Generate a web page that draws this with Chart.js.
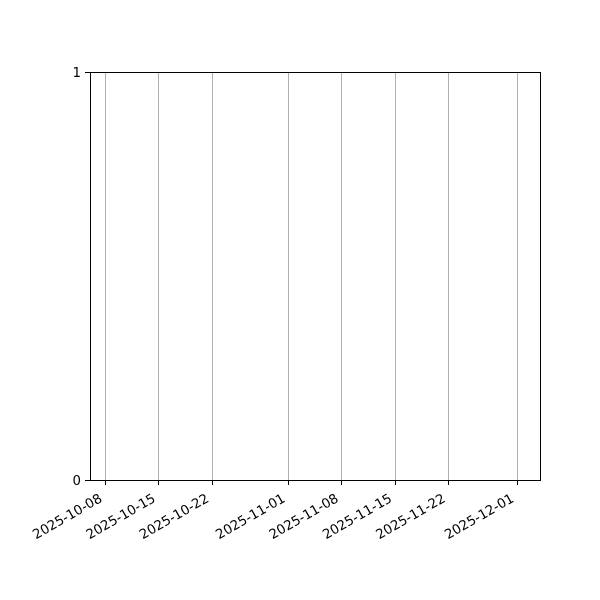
<!DOCTYPE html>
<html>
<head>
<meta charset="utf-8">
<script src="https://cdn.jsdelivr.net/npm/chart.js@4/dist/chart.umd.min.js"></script>
<style>
  html, body { margin: 0; padding: 0; background: #fff; }
  #wrap { width: 600px; height: 600px; position: relative; }
</style>
</head>
<body>
<div id="wrap"><canvas id="grafica"></canvas></div>
<script>
'use strict';

// fechas de las marcas del eje x
const TICK_DATES = ['2025-10-08', '2025-10-15', '2025-10-22', '2025-11-01',
                    '2025-11-08', '2025-11-15', '2025-11-22', '2025-12-01'];
// límites del eje x
const X_MIN_DATE = '2025-10-06';
const X_MAX_DATE = '2025-12-04';
// eje y
const Y_TICKS = [0, 1];
// serie vacía (el gráfico no tiene datos)
const SERIES_X = [];
const SERIES_Y = [];

const DAY = 86400000;
const toDay = s => Date.parse(s + 'T00:00:00Z') / DAY;
const tickDays = TICK_DATES.map(toDay);

const FONT = { family: "'DejaVu Sans', sans-serif", size: 13.3 };

const bordePlugin = {
  id: 'borde',
  afterDraw(chart) {
    const { ctx, chartArea: a } = chart;
    ctx.save();
    ctx.strokeStyle = '#000';
    ctx.lineWidth = 1;
    ctx.strokeRect(Math.round(a.left) + 0.5, Math.round(a.top) + 0.5,
                   Math.round(a.right - a.left), Math.round(a.bottom - a.top));
    ctx.restore();
  }
};

new Chart(document.getElementById('grafica').getContext('2d'), {
  type: 'line',
  data: {
    datasets: [{
      data: SERIES_X.map((x, i) => ({ x: toDay(x), y: SERIES_Y[i] })),
      borderColor: '#1f77b4',
      pointRadius: 0
    }]
  },
  options: {
    responsive: true,
    maintainAspectRatio: false,
    animation: false,
    layout: { padding: { top: 72, right: 60, left: 0, bottom: 0 } },
    plugins: { legend: { display: false }, tooltip: { enabled: false } },
    scales: {
      x: {
        type: 'linear',
        min: toDay(X_MIN_DATE),
        max: toDay(X_MAX_DATE),
        afterBuildTicks: s => { s.ticks = tickDays.map(v => ({ value: v })); },
        afterFit: s => { s.height = 120; },
        ticks: {
          color: '#000',
          font: FONT,
          minRotation: 30,
          maxRotation: 30,
          autoSkip: false,
          padding: 6,
          labelOffset: -4,
          callback: (v) => {
            const i = tickDays.indexOf(v);
            return i >= 0 ? TICK_DATES[i] : '';
          }
        },
        grid: { color: '#b0b0b0', lineWidth: 1, tickColor: '#000', tickLength: 5 },
        border: { display: true, color: '#000', width: 1 }
      },
      y: {
        type: 'linear',
        min: Y_TICKS[0],
        max: Y_TICKS[Y_TICKS.length - 1],
        afterBuildTicks: s => { s.ticks = Y_TICKS.map(v => ({ value: v })); },
        afterFit: s => { s.width = 90; },
        ticks: { color: '#000', font: FONT, padding: 4, labelOffset: 2 },
        grid: { drawOnChartArea: false, tickColor: '#000', tickLength: 5 },
        border: { display: true, color: '#000', width: 1 }
      }
    }
  },
  plugins: [bordePlugin]
});
</script>
</body>
</html>
